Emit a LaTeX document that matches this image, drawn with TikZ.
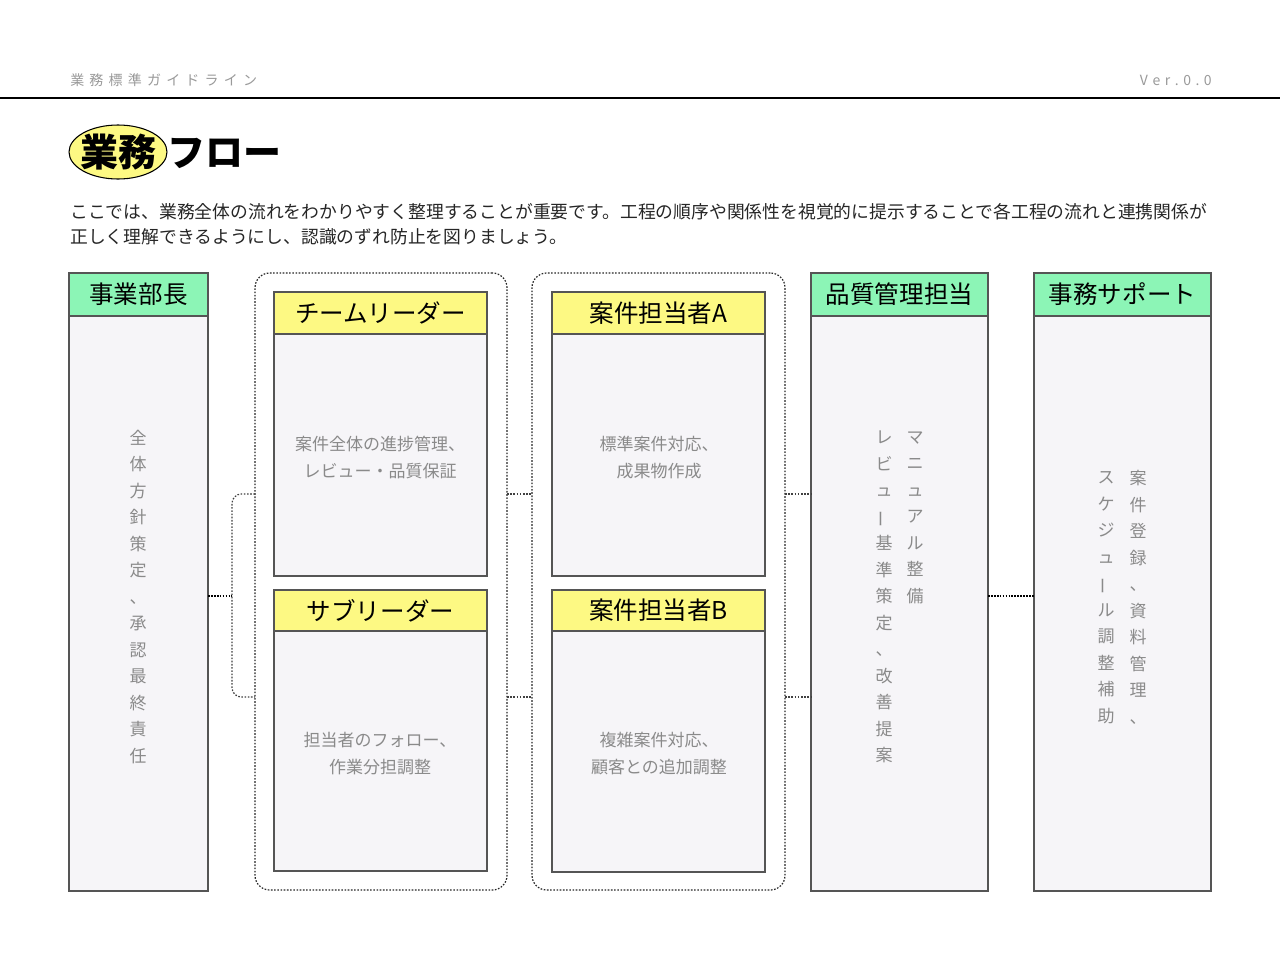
\documentclass[tikz,border=0pt]{standalone}
\usepackage{fontspec}
\setmainfont{Noto Sans CJK JP}
\usetikzlibrary{shapes.geometric}
\definecolor{hgreen}{HTML}{8CF5B6}
\definecolor{hyellow}{HTML}{FDF983}
\definecolor{bodyc}{HTML}{F6F5F8}
\definecolor{edgec}{HTML}{555555}
\definecolor{txtg}{HTML}{8A8A8A}
\definecolor{headg}{HTML}{9A9A9A}
\newcommand\gapx{\hspace{3.9pt}}
\newcommand\gapy{\hspace{3.4pt}}
\newcommand\vbar{\rotatebox[origin=c]{90}{ー}}
\begin{document}
\begin{tikzpicture}[x=0.75pt,y=-0.75pt,
  hdrg/.style={draw=edgec, fill=hgreen, line width=0.9pt, inner sep=0pt, outer sep=0pt, font=\fontsize{18.4}{22}\selectfont, text=black, anchor=south west},
  hdry/.style={draw=edgec, fill=hyellow, line width=0.9pt, inner sep=0pt, outer sep=0pt, font=\fontsize{18.4}{22}\selectfont, text=black, anchor=south west},
  bodybox/.style={draw=edgec, fill=bodyc, line width=0.9pt, inner sep=0pt, outer sep=0pt, anchor=north west},
  grp/.style={draw=black!85, line width=0.9pt, dash pattern=on 1.2pt off 1.2pt, rounded corners=11pt, inner sep=0pt, outer sep=0pt, anchor=north west},
  lk/.style={draw=black!75, line width=0.9pt, dash pattern=on 1.2pt off 1.2pt},
  hk/.style={draw=black, line width=1.4pt, dash pattern=on 1.3pt off 0.9pt},
  vtext/.style={text=txtg, align=center, inner sep=0pt, font=\fontsize{12.75}{19.875}\selectfont},
  btext/.style={text=txtg, align=center, inner sep=0pt, font=\fontsize{12.75}{20.25}\selectfont},
  titlefont/.style={font=\fontsize{28.5}{32}\selectfont\bfseries}
]
\useasboundingbox (0,0) rectangle (1280,960);
\fill[white] (0,0) rectangle (1280,960);

% header
\node[anchor=west, inner sep=0pt, text=headg, font=\fontsize{10.5}{12}\selectfont] (gl) at (70,80)
  {業\gapx 務\gapx 標\gapx 準\gapx ガ\gapx イ\gapx ド\gapx ラ\gapx イ\gapx ン};
\node[anchor=east, inner sep=0pt, text=headg, font=\fontsize{10.5}{12}\selectfont] (ver) at (1212,80)
  {V\gapy e\gapy r\gapy .\gapy 0\gapy .\gapy 0};
\coordinate (hl0) at (0,98);
\coordinate (hl1) at (1280,98);
\draw[line width=1pt, black] (hl0) -- (hl1);

% title
\coordinate (tc) at (118,152);
\draw[line width=0.8pt, black, fill=hyellow] (tc) ellipse [x radius=49, y radius=27];
\node[inner sep=0pt, titlefont] (t1) at (tc) {業務};
\node[anchor=base west, inner sep=0pt, titlefont] (t2) at ([xshift=8pt]t1.base east) {フロー};

% paragraph
\node[anchor=west, inner sep=0pt, text=black!85, font=\fontsize{13.35}{16}\selectfont] (p1) at (70,212)
  {ここでは、業務全体の流れをわかりやすく整理することが重要です。工程の順序や関係性を視覚的に提示することで各工程の流れと連携関係が};
\node[anchor=west, inner sep=0pt, text=black!85, font=\fontsize{13.35}{16}\selectfont] (p2) at (70,237)
  {正しく理解できるようにし、認識のずれ防止を図りましょう。};

% groups
\node[grp, minimum width=252*0.75pt, minimum height=617*0.75pt] (g1) at (255,273) {};
\node[grp, minimum width=253*0.75pt, minimum height=617*0.75pt] (g2) at (532,273) {};

% column 1
\node[bodybox, minimum width=139*0.75pt, minimum height=575*0.75pt] (c1b) at (69,316) {};
\node[hdrg, minimum width=139*0.75pt, minimum height=43*0.75pt] (c1h) at (69,316) {事業部長};
\node[vtext] (c1t) at (138,597) {全\\体\\方\\針\\策\\定\\、\\承\\認\\最\\終\\責\\任};

% team leader
\node[bodybox, minimum width=213*0.75pt, minimum height=242*0.75pt] (tlb) at (274,334) {};
\node[hdry, minimum width=213*0.75pt, minimum height=42*0.75pt] (tlh) at (274,334) {チームリーダー};
\node[btext] (tlt) at (380,457.5) {案件全体の進捗管理、\\レビュー・品質保証};

% sub leader
\node[bodybox, minimum width=213*0.75pt, minimum height=240*0.75pt] (slb) at (274,631) {};
\node[hdry, minimum width=213*0.75pt, minimum height=41*0.75pt] (slh) at (274,631) {サブリーダー};
\node[btext] (slt) at (380,753.5) {担当者のフォロー、\\作業分担調整};

% person A
\node[bodybox, minimum width=213*0.75pt, minimum height=242*0.75pt] (pab) at (552,334) {};
\node[hdry, minimum width=213*0.75pt, minimum height=42*0.75pt] (pah) at (552,334) {案件担当者A};
\node[btext] (pat) at (659,457.5) {標準案件対応、\\成果物作成};

% person B
\node[bodybox, minimum width=213*0.75pt, minimum height=241*0.75pt] (pbb) at (552,631) {};
\node[hdry, minimum width=213*0.75pt, minimum height=41*0.75pt] (pbh) at (552,631) {案件担当者B};
\node[btext] (pbt) at (659,753.5) {複雑案件対応、\\顧客との追加調整};

% quality
\node[bodybox, minimum width=177*0.75pt, minimum height=575*0.75pt] (c4b) at (811,316) {};
\node[hdrg, minimum width=177*0.75pt, minimum height=43*0.75pt] (c4h) at (811,316) {品質管理担当};
\node[vtext] (c4r) at (915,517.5) {マ\\ニ\\ュ\\ア\\ル\\整\\備};
\node[vtext] (c4l) at (884,597) {レ\\ビ\\ュ\\\vbar\\基\\準\\策\\定\\、\\改\\善\\提\\案};

% office support
\node[bodybox, minimum width=177*0.75pt, minimum height=575*0.75pt] (c5b) at (1034,316) {};
\node[hdrg, minimum width=177*0.75pt, minimum height=43*0.75pt] (c5h) at (1034,316) {事務サポート};
\node[vtext] (c5r) at (1138,597.5) {案\\件\\登\\録\\、\\資\\料\\管\\理\\、};
\node[vtext] (c5l) at (1106,597.5) {ス\\ケ\\ジ\\ュ\\\vbar\\ル\\調\\整\\補\\助};

% connectors
\coordinate (y494) at (0,494);
\coordinate (y697) at (0,697);
\coordinate (y596) at (0,596);
\coordinate (bk) at (232,596);
\coordinate (bkt) at (232,494);
\coordinate (bkb) at (232,697);
\draw[hk] (c1b.east |- y596) -- (bk);
\draw[lk, rounded corners=7pt] (g1.west |- y494) -- (bkt) -- (bkb) -- (g1.west |- y697);
\draw[lk] (g1.east |- y494) -- (g2.west |- y494);
\draw[lk] (g1.east |- y697) -- (g2.west |- y697);
\draw[lk] (g2.east |- y494) -- (c4b.west |- y494);
\draw[lk] (g2.east |- y697) -- (c4b.west |- y697);
\draw[hk] (c4b.east |- y596) -- (c5b.west |- y596);
\end{tikzpicture}
\end{document}
